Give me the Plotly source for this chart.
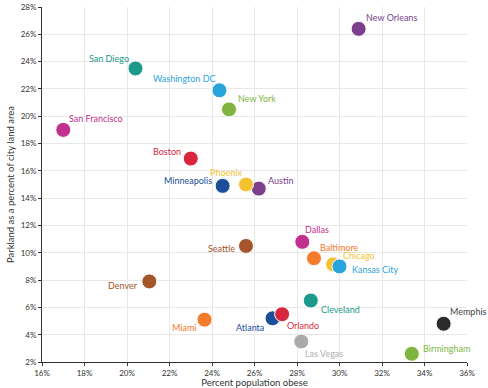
import plotly.graph_objects as go

cities = ["New Orleans", "San Diego", "Washington DC", "New York", "San Francisco",
          "Boston", "Minneapolis", "Austin", "Phoenix", "Seattle", "Denver", "Miami",
          "Dallas", "Baltimore", "Chicago", "Kansas City", "Cleveland", "Atlanta",
          "Orlando", "Las Vegas", "Memphis", "Birmingham"]
obese = [30.9, 20.4, 24.35, 24.8, 17.0, 23.0, 24.5, 26.2, 25.6, 25.6, 21.05, 23.65,
         28.25, 28.8, 29.7, 30.0, 28.65, 26.85, 27.3, 28.2, 34.9, 33.4]
parkland = [26.4, 23.5, 21.9, 20.5, 19.0, 16.9, 14.9, 14.7, 15.0, 10.5, 7.9, 5.1,
            10.8, 9.6, 9.15, 9.0, 6.5, 5.2, 5.5, 3.5, 4.8, 2.6]

# styles
colors = ["#7b3f8e", "#1b9a8b", "#2aa4dc", "#7fb53e", "#c2308e",
          "#d7263d", "#1a4e99", "#7b3f8e", "#f2c230", "#a4552a", "#a4552a", "#f47a2c",
          "#c2308e", "#f47a2c", "#f2c230", "#2aa4dc", "#1b9a8b", "#1a4e99",
          "#d7263d", "#aaaaaa", "#2b2b2b", "#7fb53e"]
label_colors = list(colors)
label_colors[19] = "#b0b0b0"
label_colors[20] = "#444444"
label_anchor = ["left", "right", "right", "left", "left",
                "right", "right", "left", "right", "right", "right", "right",
                "left", "left", "left", "left", "left", "right",
                "left", "left", "left", "left"]
label_dx = [5, -5, -1, 7, 4, -8, -9, 7, -2, -9, -9, -7, 1, 4, 8, 10, 8, -7, 3, 2, 4, 9]
label_dy = [11, 10, 12, 11, 11, 7, 5, 8, 12, -3, -4, -8, 12, 11, 9, -3, -9, -9, -11, -12, 12, 5]

x_ticks = list(range(16, 37, 2))
y_ticks = list(range(2, 29, 2))

fig = go.Figure(go.Scatter(
    x=obese, y=parkland, mode="markers",
    marker=dict(size=15, color=colors, opacity=1, line=dict(color="white", width=1)),
    cliponaxis=False, text=cities, hoverinfo="text"
))

for i, name in enumerate(cities):
    fig.add_annotation(
        x=obese[i], y=parkland[i], text=name, showarrow=False,
        xanchor=label_anchor[i], yanchor="middle",
        xshift=label_dx[i], yshift=label_dy[i],
        font=dict(family="Lato, sans-serif", size=9, color=label_colors[i]),
    )

fig.update_layout(
    width=488, height=388,
    margin=dict(l=42, r=21, t=7, b=26),
    paper_bgcolor="white", plot_bgcolor="white",
    font=dict(family="Lato, sans-serif", color="#333333"),
    showlegend=False,
    xaxis=dict(range=[16, 36], tickvals=x_ticks, ticktext=[f"{v}%" for v in x_ticks],
               showgrid=True, gridcolor="#e8e8e8", gridwidth=1, zeroline=False,
               showline=True, linecolor="#333333", linewidth=1,
               ticks="outside", ticklen=3, tickcolor="#333333",
               tickfont=dict(size=8, color="#333333"), automargin=False,
               title=dict(text="Percent population obese", font=dict(size=9.5, color="#333333"), standoff=2)),
    yaxis=dict(range=[2, 28], tickvals=y_ticks, ticktext=[f"{v}%" for v in y_ticks],
               showgrid=True, gridcolor="#e8e8e8", gridwidth=1, zeroline=False,
               showline=True, linecolor="#333333", linewidth=1,
               ticks="outside", ticklen=3, tickcolor="#333333",
               tickfont=dict(size=8, color="#333333"), automargin=False,
               title=dict(text="Parkland as a percent of city land area", font=dict(size=9.5, color="#333333"), standoff=4)),
)

fig.write_html("out.html", config={"displayModeBar": False},
               post_script="document.body.style.margin='0';")
